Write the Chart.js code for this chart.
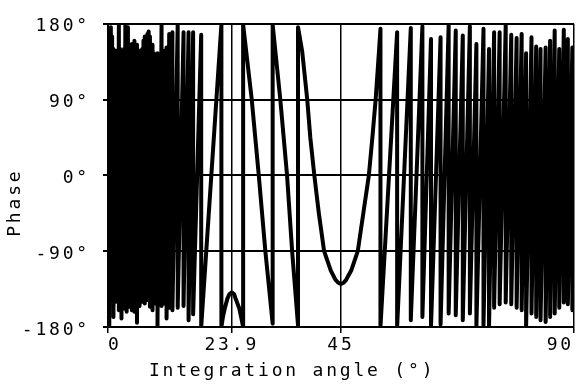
<!DOCTYPE html>
<html>
<head>
<meta charset="utf-8">
<script src="https://cdn.jsdelivr.net/npm/chart.js@4.4.1/dist/chart.umd.min.js"></script>
<style>
  html, body { margin: 0; padding: 0; background: #fff; }
  #chart { display: block; }
</style>
</head>
<body>
<canvas id="chart" width="580" height="387"></canvas>
<script>
// Axis ticks
const xTicks = [0, 23.9, 45, 90];
const yTicks = [-180, -90, 0, 90, 180];

// Left fan (0 - 22 deg): angle of each phase wrap, last sample before the jump (top) and first after it (bottom)
const leftWrapAngle = [0.00, 0.25, 0.55, 0.80, 1.05, 1.30, 1.55, 1.80, 2.10, 2.35, 2.60, 2.85, 3.10, 3.35, 3.60, 3.85,
  4.10, 4.35, 4.60, 4.85, 5.10, 5.35, 5.60, 5.85, 6.10, 6.35, 6.60, 6.85, 7.10, 7.35, 7.60, 7.85, 8.10, 8.35, 8.60, 8.85,
  9.10, 9.35, 9.56, 9.95, 10.34, 10.85, 11.31, 11.82, 12.44, 13.46, 14.59, 15.56, 16.44, 18.00, 21.90];
const leftWrapTop = [128, 135, 176, 165, 150, 142, 148, 140, 178, 150, 145, 140, 150, 178, 148, 176,
  150, 142, 156, 150, 160, 145, 155, 140, 148, 142, 150, 160, 165, 150, 168, 171, 165, 150, 155, 145,
  140, 138, 145, 143, 179, 148, 152, 168, 170, 179, 170, 170, 170, 167, 179];
const leftWrapBottom = [-176, -178, -132, -128, -168, -136, -150, -140, -160, -136, -170, -140, -158, -138, -162, -140,
  -156, -138, -160, -140, -162, -138, -175, -140, -155, -138, -150, -140, -152, -140, -148, -142, -156, -140, -160, -145,
  -152, -140, -179, -150, -155, -152, -170, -157, -160, -157, -155, -172, -165, -180, -180];

// Middle part: arch at 23.9, two falling branches, the dip at 45
const midAngle = [22.2, 22.55, 23.07, 23.45, 23.9, 24.35, 24.63, 25.36, 25.7, 26.1,
  26.1, 27.76, 29.12, 30.39, 31.8,
  31.8, 33.28, 34.58, 35.56, 36.7,
  36.7, 37.51, 38.48, 39.07, 39.85, 40.72, 41.74, 43.03, 43.94, 44.5, 45, 45.5, 45.99, 46.97, 48.24, 49.31, 50.38, 51.06, 51.69, 52.33];
const midPhase = [-168, -158, -146, -141, -139, -141, -146, -158, -168, -180,
  179, 90, 0, -90, -176,
  179, 90, 0, -90, -178,
  176, 147, 90, 45, 0, -45, -90, -113, -124, -127.5, -129, -127.5, -124, -113, -90, -45, 0, 45, 90, 147];

// Right fan (52.6 - 90 deg)
const rightWrapAngle = [52.62, 55.84, 58.48, 60.72, 62.38, 64.23, 65.79, 67.16, 68.52, 69.89, 71.15, 72.52, 73.59, 74.57,
  75.64, 76.81, 77.88, 78.92, 79.89, 80.75, 81.79, 82.70, 83.54, 84.52, 85.39, 86.27, 87.15, 88.03, 88.81, 89.68];
const rightWrapTop = [174, 170, 175, 177, 162, 164, 179, 172, 166, 177, 156, 174, 150, 170,
  170, 179, 167, 163, 168, 145, 164, 153, 150, 152, 160, 172, 150, 173, 162, 152];
const rightWrapBottom = [-180, -180, -172, -168, -180, -177, -164, -166, -172, -164, -180, -178, -180, -157,
  -153, -151, -153, -157, -160, -180, -164, -168, -172, -174, -168, -164, -157, -151, -153, -160];
const endAngle = 90;
const endPhase = -45;

// Build the trace
const points = [];
leftWrapAngle.forEach((a, i) => {
  points.push({ x: a, y: leftWrapTop[i] }, { x: a, y: leftWrapBottom[i] });
});
midAngle.forEach((a, i) => points.push({ x: a, y: midPhase[i] }));
rightWrapAngle.forEach((a, i) => {
  points.push({ x: a, y: rightWrapTop[i] }, { x: a, y: rightWrapBottom[i] });
});
points.push({ x: endAngle, y: endPhase });

const font = { family: "'DejaVu Sans Mono', monospace", size: 18 };

// plotter-style wide lettering
const spacing = {
  id: 'spacing',
  beforeLayout(c) { c.ctx.letterSpacing = '2.8px'; },
  beforeDraw(c) { c.ctx.letterSpacing = '2.8px'; }
};

const chart = new Chart(document.getElementById('chart'), {
  type: 'line',
  data: {
    datasets: [{
      data: points,
      borderColor: '#000',
      borderWidth: 4,
      borderJoinStyle: 'round',
      borderCapStyle: 'round',
      pointRadius: 0,
      tension: 0,
      fill: false
    }]
  },
  options: {
    responsive: false,
    animation: false,
    devicePixelRatio: 1,
    parsing: false,
    layout: { padding: { top: 14, right: 6, left: 0, bottom: 0 } },
    plugins: { legend: { display: false }, tooltip: { enabled: false } },
    scales: {
      x: {
        type: 'linear',
        min: 0,
        max: 90,
        afterBuildTicks: s => { s.ticks = xTicks.map(v => ({ value: v })); },
        afterFit: s => { s.height = 60; },
        ticks: { font, color: '#000', padding: 2, align: 'inner', maxRotation: 0, callback: v => String(v) },
        grid: { color: '#000', lineWidth: 1.5, tickLength: 6 },
        border: { display: true, color: '#000', width: 2 },
        title: { display: true, align: 'start', text: '   Integration angle (°)', font, color: '#000', padding: { top: 0, bottom: 5 } }
      },
      y: {
        min: -180,
        max: 180,
        afterBuildTicks: s => { s.ticks = yTicks.map(v => ({ value: v })); },
        afterFit: s => { s.width = 108; },
        ticks: { font, color: '#000', padding: 13, labelOffset: 3, callback: v => v + '°' },
        grid: { color: '#000', lineWidth: 2, tickLength: 5 },
        border: { display: true, color: '#000', width: 2 },
        title: { display: true, text: 'Phase    ', font, color: '#000', padding: { top: 5, bottom: 0 } }
      }
    }
  },
  plugins: [spacing]
});
</script>
</body>
</html>
